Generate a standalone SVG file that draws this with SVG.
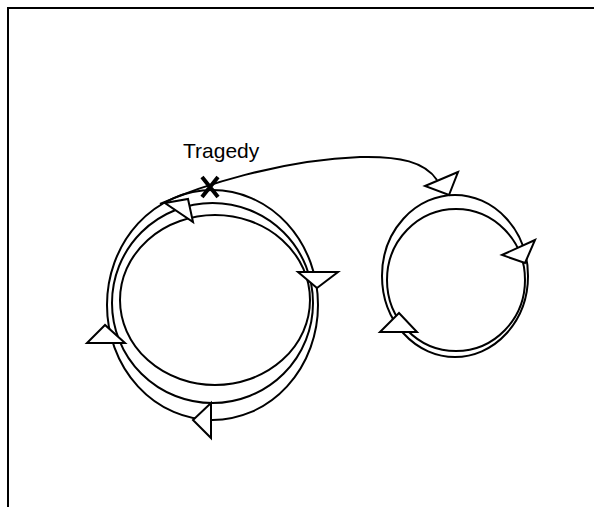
<svg xmlns="http://www.w3.org/2000/svg" width="594" height="507" viewBox="0 0 594 507">
<style>
.ln{fill:none;stroke:#000;stroke-width:2}
.ah{fill:#fff;stroke:#000;stroke-width:2;stroke-linejoin:miter}
.lbl{font-family:"Liberation Sans",Arial,sans-serif;font-size:21px;fill:#000}
</style>
<rect width="594" height="507" fill="#fff"/>
<g id="frame">
<path class="ln" d="M8,507 V8 H594"/>
</g>
<g id="connectors">
<ellipse class="ln" cx="212.5" cy="305" rx="105.5" ry="115"/>
<ellipse class="ln" cx="212.5" cy="303" rx="100.5" ry="100"/>
<ellipse class="ln" cx="215" cy="300" rx="95" ry="85"/>
<ellipse class="ln" cx="455" cy="276" rx="73" ry="81"/>
<ellipse class="ln" cx="456" cy="280" rx="69" ry="71"/>
<path class="ln" d="M160,204 C200,186 280,160 360,157 C400,156 425,162 437,180"/>
</g>
<g id="arrowheads">
<polygon class="ah" points="165,203 188,199 193,222"/>
<polygon class="ah" points="298,272 338,272 317,288"/>
<polygon class="ah" points="105,325 87,343 125,343"/>
<polygon class="ah" points="211,403 193,420 211,438"/>
<polygon class="ah" points="458,172 425,186 449,195"/>
<polygon class="ah" points="535,240 502,255 525,263"/>
<polygon class="ah" points="399,313 380,332 417,332"/>
</g>
<g id="tragedy">
<path d="M202,177 L218,197 M218,177 L202,197" stroke="#000" stroke-width="4" fill="none"/>
<text class="lbl" x="183" y="158">Tragedy</text>
</g>
</svg>
